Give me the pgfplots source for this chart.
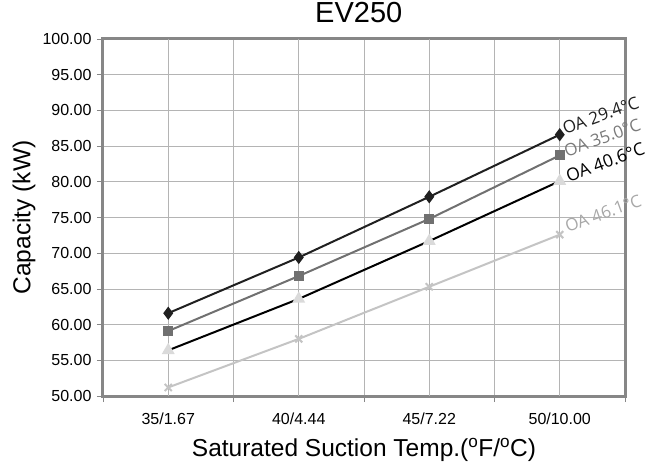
\documentclass[border=0pt]{standalone}
\usepackage{fontspec}
\setmainfont{Liberation Sans}
\newfontfamily\labfont{Open Sans}
\usepackage{pgfplots}
\pgfplotsset{compat=1.18}
\definecolor{framec}{HTML}{878787}
\definecolor{gridc}{HTML}{B4B4B4}
\definecolor{cA}{HTML}{202020}
\definecolor{cB}{HTML}{707070}
\definecolor{cC}{HTML}{000000}
\definecolor{cCm}{HTML}{DADADA}
\definecolor{cD}{HTML}{C4C4C4}
\definecolor{lB}{HTML}{7A7A7A}
\definecolor{lD}{HTML}{A8A8A8}
\begin{document}
\begin{tikzpicture}
\useasboundingbox (-103bp,-72bp) rectangle (555bp,396bp);
\begin{axis}[
  at={(0,0)}, anchor=south west,
  scale only axis, width=522bp, height=357bp,
  clip=false,
  xmin=-0.5, xmax=3.5, ymin=50, ymax=100,
  xtick={-0.5,0.5,1.5,2.5,3.5}, xticklabels={},
  extra x ticks={0,1,2,3},
  extra x tick labels={35/1.67,40/4.44,45/7.22,50/10.00},
  extra x tick style={major tick length=0pt, grid=major},
  ytick={50,55,...,100},
  yticklabel style={xshift=-2bp, /pgf/number format/.cd, fixed, fixed zerofill, precision=2, assume math mode=true},
  grid=major,
  major grid style={draw=gridc, line width=0.8bp},
  axis line style={draw=framec, line width=3bp},
  tick align=outside, tick pos=left,
  tick style={draw=framec, line width=0.8bp},
  major tick length=6bp,
  tick label style={font=\fontsize{16bp}{18bp}\selectfont, text=black},
  xticklabel style={yshift=-13bp},
  xlabel={Saturated Suction Temp.(\textsuperscript{o}F/\textsuperscript{o}C)},
  ylabel={Capacity (kW)},
  xlabel style={font=\fontsize{24.5bp}{28bp}\selectfont, at={(axis description cs:0.5,-0.1695)}, anchor=base},
  ylabel style={font=\fontsize{24.5bp}{28bp}\selectfont, at={(axis description cs:-0.1513,0.5)}, anchor=center},
  title={EV250},
  title style={font=\fontsize{29bp}{32bp}\selectfont, at={(axis description cs:0.49,1)}, anchor=base, yshift=10.5bp},
]
\addplot[color=cA, line width=2bp, mark=diamond*, mark size=5bp, mark options={solid, fill=cA, draw=cA}]
  coordinates {(0,61.6) (1,69.4) (2,77.9) (3,86.6)};
\addplot[color=cB, line width=2bp, mark=square*, mark size=4bp, mark options={solid, fill=cB, draw=cB}]
  coordinates {(0,59.1) (1,66.8) (2,74.8) (3,83.7)};
\addplot[color=cC, line width=2bp, mark=triangle*, mark size=5.5bp, mark options={solid, fill=cCm, draw=cCm}]
  coordinates {(0,56.4) (1,63.6) (2,71.7) (3,80.1)};
\addplot[color=cD, line width=2bp, mark=x, mark size=5bp, mark options={solid, draw=cD, line width=2bp}]
  coordinates {(0,51.2) (1,58.0) (2,65.3) (3,72.6)};
\node[anchor=base west, rotate=20, xshift=5bp, yshift=-2bp, text=cA, font=\labfont\fontsize{17bp}{18bp}\selectfont, inner sep=0pt] at (axis cs:3,86.6) {OA 29.4°C};
\node[anchor=base west, rotate=20, xshift=6bp, yshift=-4bp, text=lB, font=\labfont\fontsize{17bp}{18bp}\selectfont, inner sep=0pt] at (axis cs:3,83.7) {OA 35.0°C};
\node[anchor=base west, rotate=20, xshift=8bp, yshift=-4bp, text=cC, font=\labfont\fontsize{17.5bp}{18bp}\selectfont, inner sep=0pt] at (axis cs:3,80.1) {OA 40.6°C};
\node[anchor=base west, rotate=20, xshift=8bp, yshift=-1bp, text=lD, font=\labfont\fontsize{17bp}{18bp}\selectfont, inner sep=0pt] at (axis cs:3,72.6) {OA 46.1°C};
\end{axis}
\end{tikzpicture}
\end{document}
